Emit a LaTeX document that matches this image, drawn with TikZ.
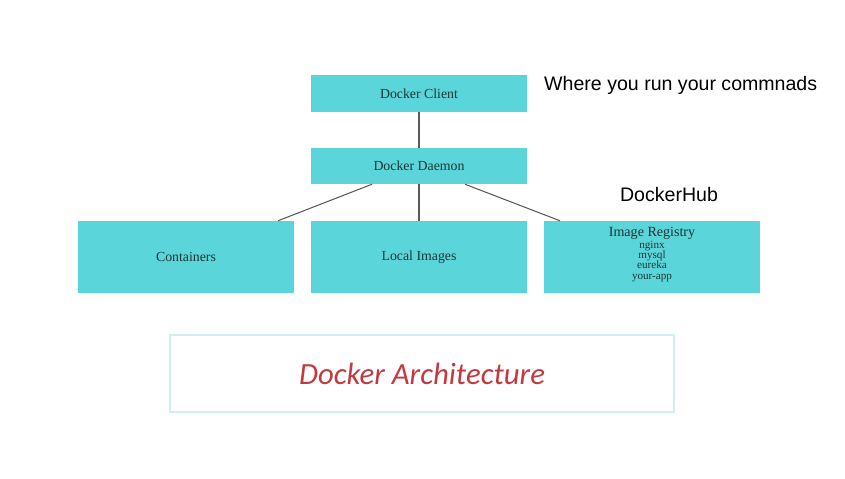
\documentclass[tikz,border=0pt]{standalone}
\usepackage{fontspec}
\setmainfont{Liberation Serif}
\newfontfamily\annofont{Liberation Sans}
\newfontfamily\titlefont{Carlito}
\usepackage{tikz}
\usetikzlibrary{positioning}
\definecolor{dockcyan}{HTML}{5AD5DA}
\definecolor{dockink}{HTML}{1C3536}
\definecolor{titlered}{HTML}{C23A40}
\definecolor{titleedge}{HTML}{CFF0F2}
\tikzset{
    comp/.style={rectangle, fill=dockcyan, draw=none, align=center, text=dockink, minimum width=6.48cm, font=\fontsize{11.8}{13}\selectfont},
    link/.style={draw=black!65, line width=0.9pt},
    note/.style={font=\annofont\fontsize{16.7}{19}\selectfont, inner sep=0pt}
}

\begin{document}
\begin{tikzpicture}[
        x=0.03cm, y=-0.03cm,
        banner/.style={rectangle, draw=titleedge, line width=1pt, fill=white, minimum width=15.12cm, minimum height=2.31cm},
        regtext/.style={align=center, text=dockink, inner sep=0pt},
    ]
        \useasboundingbox (0,0) rectangle (845,478);

        % --- TOP ---
        \node[comp, minimum height=1.11cm] (client) at (419,93.5) {Docker Client};
        \node[comp, minimum height=1.08cm] (daemon) at (419,166) {Docker Daemon};
        \draw[link] (client) -- (daemon);

        % --- BOTTOM ROW ---
        \node[comp, minimum height=2.16cm] (cont) at (186,257) {Containers};
        \node[comp, minimum height=2.16cm] (local) at (419,257) {Local Images};
        \node[comp, minimum height=2.16cm] (reg) at (652,257) {};
        \node[regtext, font=\fontsize{12}{13}\selectfont] (regtitle) at (652,233) {Image Registry};
        \node[regtext, below=1pt of regtitle, font=\fontsize{9.5}{8.8}\selectfont] (reglist)
            {nginx\\mysql\\eureka\\your-app};

        \draw[link] ([xshift=-1.41cm]daemon.south) -- ([xshift=2.76cm]cont.north);
        \draw[link] (daemon) -- (local);
        \draw[link] ([xshift=1.38cm]daemon.south) -- ([xshift=-2.76cm]reg.north);

        % Annotations
        \node[note, anchor=west] (where) at (544,85) {Where you run your commnads};
        \node[note] (hub) at (669,195) {DockerHub};

        % Caption
        \node[banner] (arch) at (422,373.5) {\titlefont\itshape\fontsize{26.3}{29}\selectfont\color{titlered}Docker Architecture};

    \end{tikzpicture}
\end{document}
